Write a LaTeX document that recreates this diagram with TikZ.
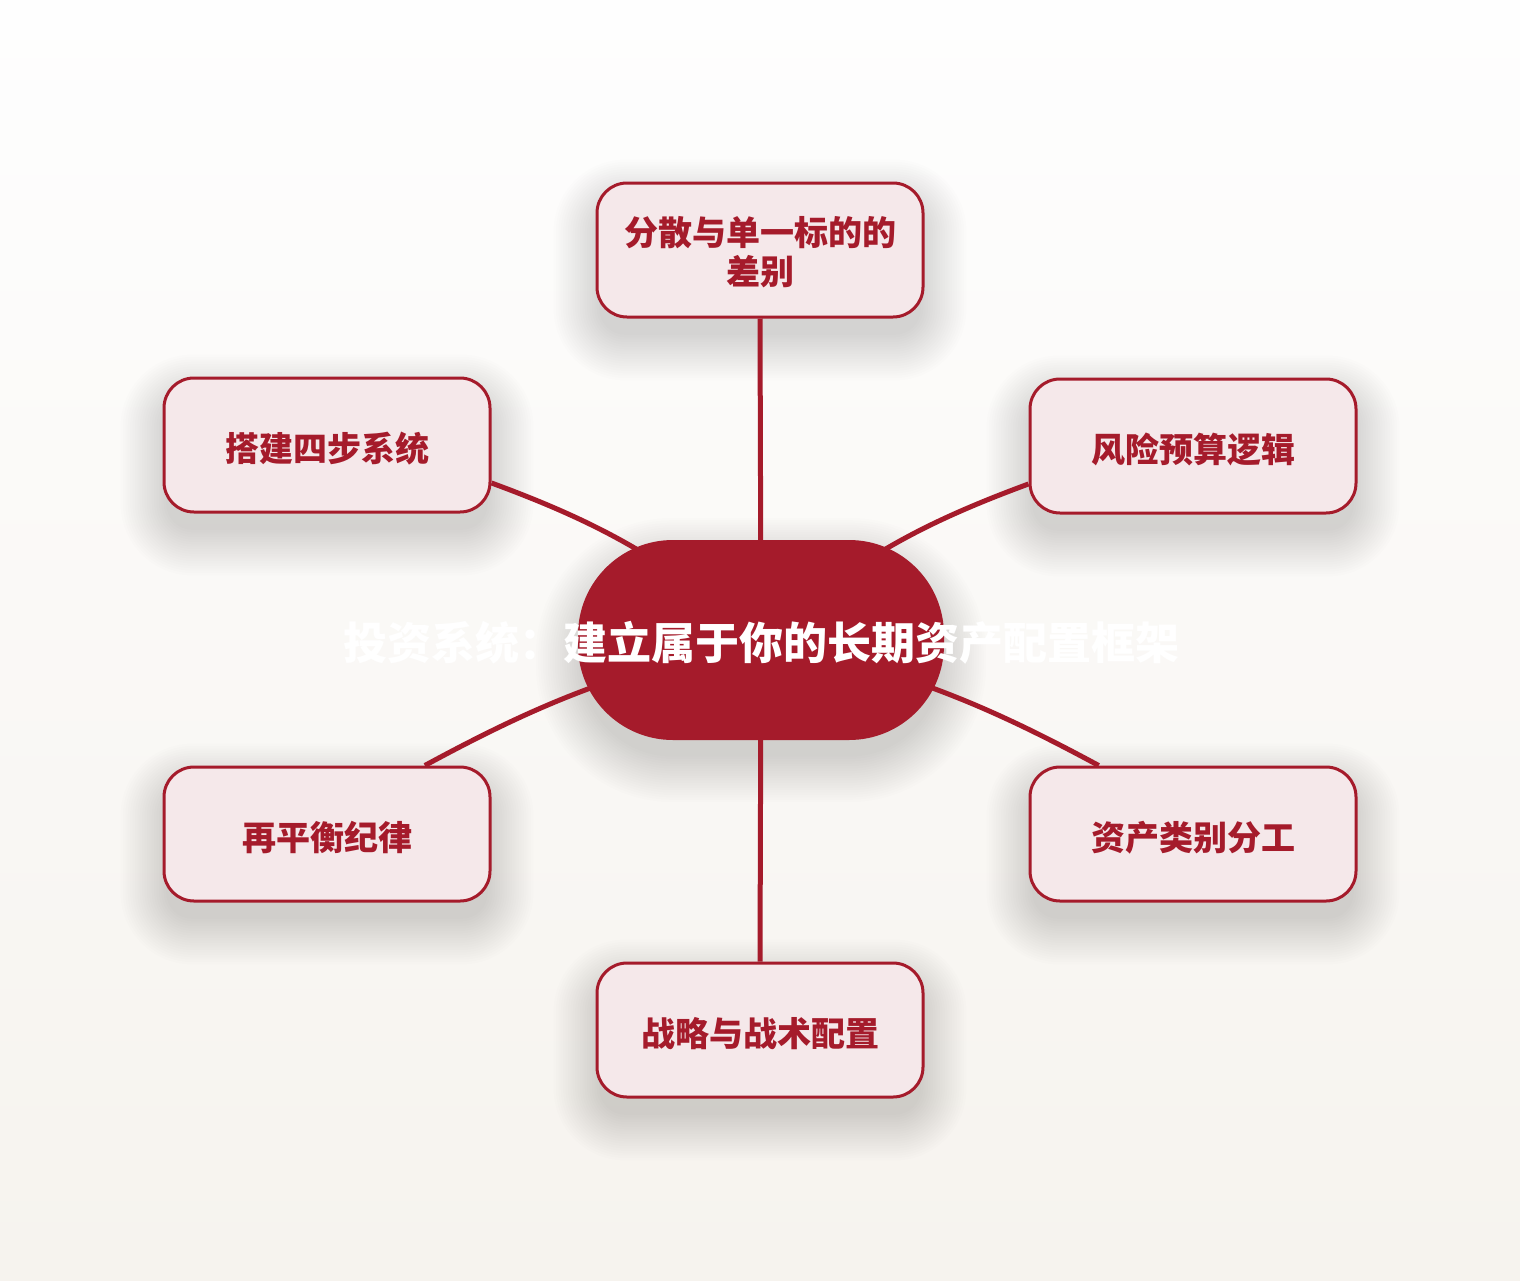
\documentclass[tikz,border=0pt]{standalone}
\usepackage{fontspec}
\newfontfamily\cjk{Noto Sans CJK SC}
\usetikzlibrary{calc}
\definecolor{mainred}{HTML}{A51B2B}
\definecolor{boxfill}{HTML}{F5E8EA}
\definecolor{bgtop}{HTML}{FEFEFE}
\definecolor{bgbot}{HTML}{F6F3EE}
\pgfdeclarelayer{bg}
\pgfdeclarelayer{shadow}
\pgfdeclarelayer{links}
\pgfsetlayers{bg,shadow,links,main}
\newcommand{\softshadow}[2]{%
  \foreach \i in {1,...,20}{%
    \pgfmathsetmacro{\dd}{\i*2.4-6}%
    \pgfmathsetmacro{\rr}{max(#2+\i*2.4-6,4)}%
    \fill[black, opacity=0.0085, rounded corners=\rr pt]
      ($(#1.north west)+(-\dd,-\dd+20)$) rectangle ($(#1.south east)+(\dd,\dd+20)$);
  }%
}
\begin{document}
\begin{tikzpicture}[x=1pt,y=-1pt,
  satbox/.style={draw=mainred, line width=3pt, fill=boxfill, rounded corners=30pt,
    minimum width=326pt, minimum height=134pt, inner sep=0pt},
  sattext/.style={font=\cjk\bfseries\fontsize{34}{39}\selectfont, text=mainred, align=center, inner sep=0pt},
  sat/.style={satbox, sattext, text height=37pt, text depth=4pt},
  hub/.style={fill=mainred, rounded corners=95pt, minimum width=366pt, minimum height=200pt,
    inner sep=0pt},
  hubtext/.style={font=\cjk\bfseries\fontsize{44}{50}\selectfont, text=white, inner sep=0pt},
  link/.style={draw=mainred, line width=5pt}
]
\begin{pgfonlayer}{bg}
\shade[top color=bgtop, bottom color=bgbot] (0,0) rectangle (1520,1280);
\end{pgfonlayer}
\useasboundingbox (0,0) rectangle (1520,1280);

\node[hub] (c) at (761,640) {};
\node[satbox] (t) at (760,250) {};
\node[sattext] (tlabel) at ($(t.center)+(0,2.5)$) {分散与单一标的的\\差别};
\node[sat] (ul) at (327,445) {搭建四步系统};
\node[sat] (ur) at (1193,446) {风险预算逻辑};
\node[sat] (ll) at (327,834) {再平衡纪律};
\node[sat] (lr) at (1193,834) {资产类别分工};
\node[sat] (b) at (760,1030) {战略与战术配置};

\begin{pgfonlayer}{shadow}
\softshadow{c}{95}
\softshadow{t}{30}
\softshadow{ul}{30}
\softshadow{ur}{30}
\softshadow{ll}{30}
\softshadow{lr}{30}
\softshadow{b}{30}
\end{pgfonlayer}

\begin{pgfonlayer}{links}
\draw[link] (t.south) -- (c.center);
\draw[link] (c.center) -- (b.north);
\draw[link] (ul.-13.5) to[bend left=10] (c.center);
\draw[link] (ur.193.8) to[bend right=10] (c.center);
\draw[link] (ll.35.8) to[bend left=8] (c.center);
\draw[link] (lr.144.2) to[bend right=8] (c.center);
\end{pgfonlayer}

\node[hubtext, yshift=-3pt] (title) at (c.center) {投资系统：建立属于你的长期资产配置框架};
\end{tikzpicture}
\end{document}
